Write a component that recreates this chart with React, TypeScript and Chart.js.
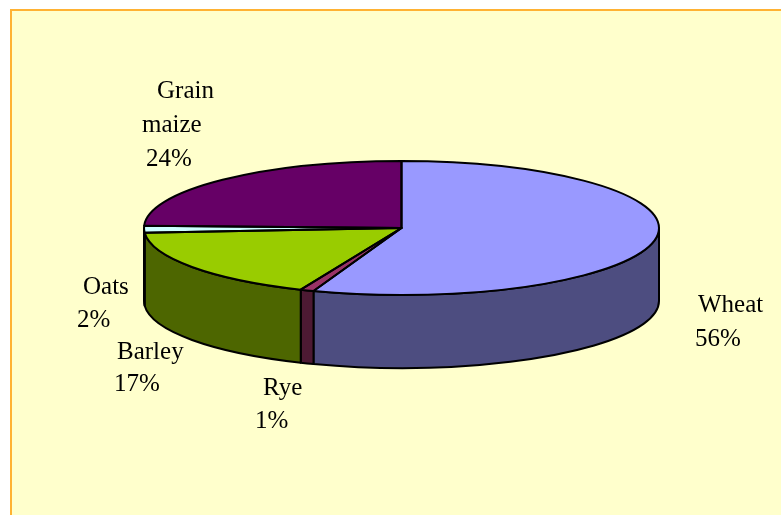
import React, { useEffect, useRef } from "react";
import { Chart, registerables } from "chart.js";

Chart.register(...registerables);

const categories = ["Wheat", "Rye", "Barley", "Oats", "Grain maize"];
const values = [55.55, 0.85, 17.45, 1.7, 24.45];
const topColors = ["#9999FF", "#993366", "#99CC00", "#CCFFFF", "#660066"];
const sideColors = ["#4D4D80", "#4D1A33", "#4D6600", "#668080", "#330033"];
const nameLines = [["Wheat"], ["Rye"], ["Barley"], ["Oats"], ["Grain", "maize"]];

// label line placement, [left, baseline] per text line (last = percentage)
const labelPlacement = [
  [[698, 312], [695, 346]],
  [[263, 395], [255, 428]],
  [[117, 359], [114, 391]],
  [[83, 294], [77, 327]],
  [[157, 98], [142, 132], [146, 166]],
];

const pieCenterX = 401.5;
const pieCenterY = 228;
const pieRadiusX = 257.5;
const pieRadiusY = 67;
const pieDepth = 73;
const fontCss = '25px "Liberation Serif"';

const pie3d = {
  id: "pie3d",
  beforeDatasetsDraw(chart: any) {
    const ctx = chart.ctx;
    const arcs = chart.getDatasetMeta(0).data;
    ctx.save();
    ctx.lineWidth = 2;
    ctx.strokeStyle = "#000";
    ctx.lineJoin = "round";
    arcs.forEach((arc: any, i: number) => {
      const p = arc.getProps(["startAngle", "endAngle"], true);
      for (const k of [0, 2]) {
        const a0 = Math.max(p.startAngle, k * Math.PI - 0);
        const a1 = Math.min(p.endAngle, k * Math.PI + Math.PI);
        if (a1 <= a0) continue;
        ctx.beginPath();
        ctx.ellipse(pieCenterX, pieCenterY, pieRadiusX, pieRadiusY, 0, a0, a1);
        ctx.ellipse(pieCenterX, pieCenterY + pieDepth, pieRadiusX, pieRadiusY, 0, a1, a0, true);
        ctx.closePath();
        ctx.fillStyle = sideColors[i];
        ctx.fill();
        ctx.stroke();
      }
    });
    ctx.restore();
    // library arcs are drawn through a flattening transform
    const a = arcs[0];
    ctx.save();
    ctx.translate(pieCenterX, pieCenterY);
    ctx.scale(pieRadiusX / a.outerRadius, pieRadiusY / a.outerRadius);
    ctx.translate(-a.x, -a.y);
  },
  afterDatasetsDraw(chart: any) {
    const ctx = chart.ctx;
    ctx.restore();
    const arcs = chart.getDatasetMeta(0).data;
    ctx.save();
    ctx.lineWidth = 2;
    ctx.strokeStyle = "#000";
    ctx.lineJoin = "round";
    arcs.forEach((arc: any) => {
      const p = arc.getProps(["startAngle", "endAngle"], true);
      ctx.beginPath();
      ctx.moveTo(pieCenterX, pieCenterY);
      ctx.ellipse(pieCenterX, pieCenterY, pieRadiusX, pieRadiusY, 0, p.startAngle, p.endAngle);
      ctx.closePath();
      ctx.stroke();
    });
    ctx.fillStyle = "#000";
    ctx.font = fontCss;
    ctx.textBaseline = "alphabetic";
    ctx.textAlign = "left";
    const total = values.reduce((s, v) => s + v, 0);
    categories.forEach((_, i) => {
      const lines = [...nameLines[i], `${Math.round((values[i] / total) * 100)}%`];
      lines.forEach((t, j) => {
        const [x, y] = labelPlacement[i][j];
        ctx.fillText(t, x, y);
      });
    });
    ctx.restore();
  },
};

export default function App() {
  const ref = useRef<HTMLCanvasElement>(null);
  useEffect(() => {
    const chart = new Chart(ref.current as HTMLCanvasElement, {
      type: "pie",
      data: {
        labels: categories,
        datasets: [{ data: values, backgroundColor: topColors, borderWidth: 0 }],
      },
      options: {
        animation: false,
        responsive: false,
        events: [],
        layout: { padding: 0 },
        plugins: { legend: { display: false }, tooltip: { enabled: false } },
      },
      plugins: [pie3d],
    } as any);
    return () => chart.destroy();
  }, []);
  return (
    <div style={{ position: "absolute", left: 0, top: 0, width: 781, height: 515, overflow: "hidden", background: "#fff" }}>
      <div
        style={{
          position: "absolute",
          left: 10,
          top: 9,
          width: 800,
          height: 600,
          background: "#FFFFCC",
          border: "2px solid #FFB233",
        }}
      />
      <canvas ref={ref} width={781} height={515} style={{ position: "absolute", left: 0, top: 0 }} />
    </div>
  );
}
